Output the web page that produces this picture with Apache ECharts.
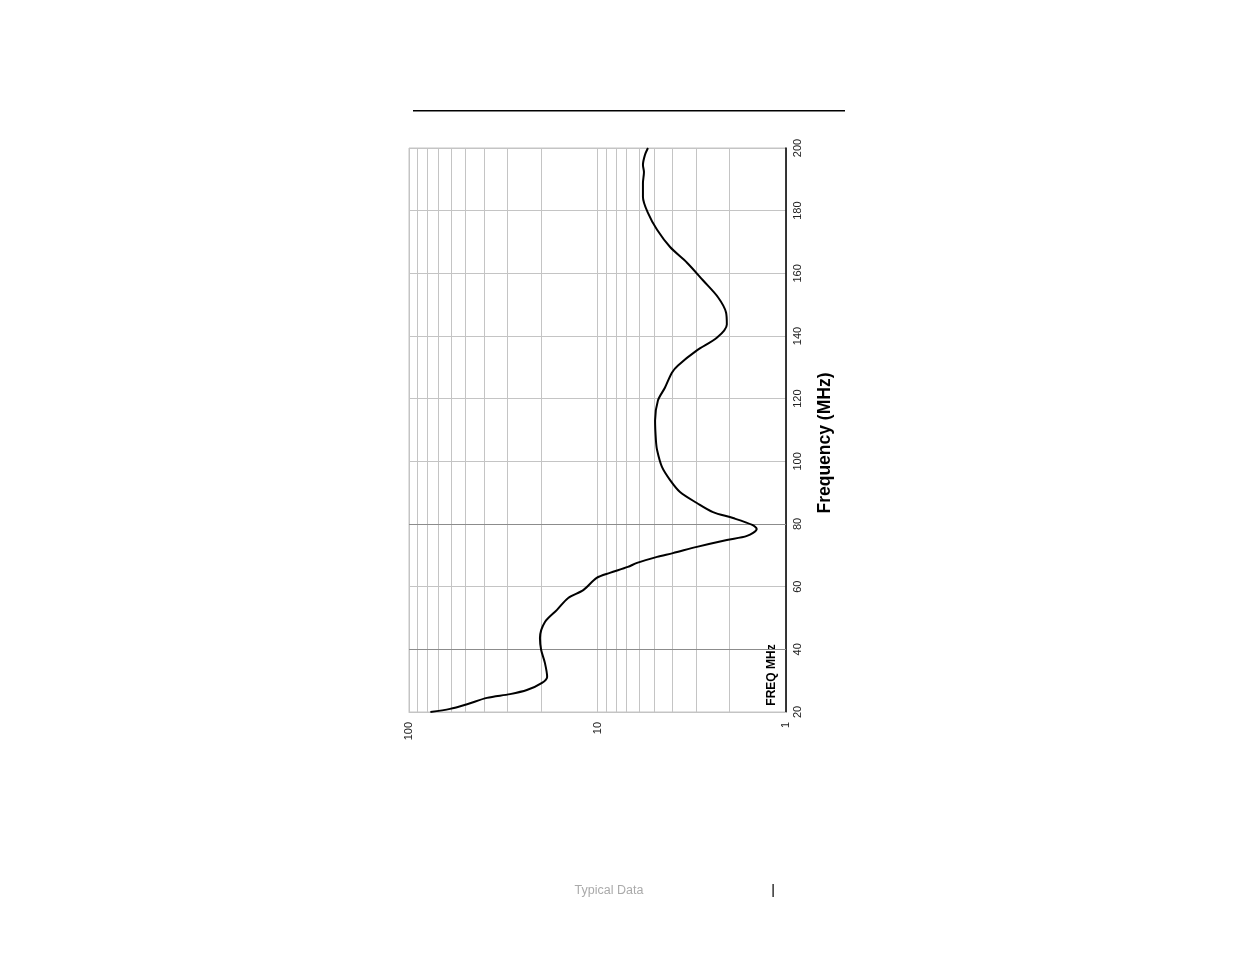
<!DOCTYPE html>
<html>
<head>
<meta charset="utf-8">
<script src="https://cdn.jsdelivr.net/npm/echarts@6/dist/echarts.min.js"></script>
<style>
html,body{margin:0;padding:0;background:#fff;}
#c{width:1235px;height:954px;}
</style>
</head>
<body>
<div id="c"></div>
<script>
// Frequency (MHz) and impedance (ohms, log scale)
const freqMHz = [20.0, 21.0, 22.5, 24.5, 25.7, 27.0, 29.3, 31.2, 35.6, 39.8, 43.6, 48.7, 52.6, 56.4, 58.9, 62.8, 64.4, 66.3, 67.6, 69.5, 70.7, 72.7, 74.9, 76.2, 78.4, 79.7, 81.9, 83.8, 86.7, 90.2, 94.0, 98.2, 103.6, 106.8, 113.0, 119.4, 123.5, 128.3, 130.6, 135.4, 139.5, 143.7, 147.5, 152.3, 157.7, 163.4, 168.4, 173.9, 179.3, 184.4, 188.8, 192.3, 194.6, 197.8, 200.0];
const impedance = [77, 60.6, 49.2, 38.6, 29.1, 23.7, 19.7, 18.5, 19.0, 19.9, 20.2, 19.0, 16.4, 14.3, 11.9, 10.1, 8.6, 6.9, 6.17, 4.83, 3.98, 2.97, 2.06, 1.61, 1.43, 1.51, 1.91, 2.44, 2.97, 3.65, 4.12, 4.55, 4.83, 4.9, 4.95, 4.78, 4.39, 4.03, 3.74, 2.97, 2.32, 2.06, 2.08, 2.29, 2.75, 3.35, 4.12, 4.83, 5.40, 5.74, 5.74, 5.67, 5.74, 5.60, 5.40];
const impedanceTicks = [1, 10, 100];
const freqTicks = [20, 40, 60, 80, 100, 120, 140, 160, 180, 200];
const minorImpedance = [2,3,4,5,6,7,8,9,20,30,40,50,60,70,80,90];
const darkFreqLines = [40, 80];
const axisTitle = 'Frequency (MHz)';
const innerLabel = 'FREQ MHz';
const footerText = 'Typical Data';

const seriesData = freqMHz.map((f, i) => [impedance[i], f]);

const chart = echarts.init(document.getElementById('c'), null, {renderer: 'canvas'});
chart.setOption({
  animation: false,
  backgroundColor: '#fff',
  grid: {left: 409, right: 449, top: 148, bottom: 242, show: true, borderColor: '#c4c4c4', borderWidth: 1},
  xAxis: {
    type: 'log', logBase: 10, min: 1, max: 100, inverse: true,
    axisLine: {show: true, lineStyle: {color: '#c4c4c4', width: 1}},
    axisTick: {show: false},
    axisLabel: {rotate: 90, fontSize: 11, color: '#222', fontFamily: 'Liberation Sans', margin: 10,
      formatter: v => impedanceTicks.includes(Math.round(v)) ? String(Math.round(v)) : ''},
    splitLine: {show: true, lineStyle: {color: '#c4c4c4', width: 1}}
  },
  yAxis: {
    type: 'value', min: 20, max: 200, interval: 20, position: 'right',
    axisLine: {show: true, onZero: false, lineStyle: {color: '#000', width: 1.5}},
    axisTick: {show: false},
    axisLabel: {rotate: 90, fontSize: 11, color: '#222', fontFamily: 'Liberation Sans', margin: 6,
      formatter: v => freqTicks.includes(v) ? String(v) : ''},
    splitLine: {show: true, lineStyle: {color: '#c4c4c4', width: 1}}
  },
  series: [
    {
      type: 'line', data: [], silent: true,
      markLine: {
        silent: true, symbol: 'none', animation: false, label: {show: false},
        lineStyle: {color: '#c4c4c4', width: 1, type: 'solid'},
        data: minorImpedance.map(v => ({xAxis: v}))
          .concat(darkFreqLines.map(v => ({yAxis: v, lineStyle: {color: '#8c8c8c', width: 1, type: 'solid'}})))
      }
    },
    {
      type: 'line', data: seriesData, showSymbol: false, smooth: 0.3,
      lineStyle: {color: '#000', width: 2}, z: 5
    }
  ],
  graphic: [
    {type: 'rect', shape: {x: 413, y: 110, width: 432, height: 1.5}, style: {fill: '#000'}},
    {type: 'text', x: 825, y: 443, rotation: Math.PI / 2,
      style: {text: axisTitle, fontSize: 17.5, fontWeight: 'bold', fill: '#000', fontFamily: 'Liberation Sans', align: 'center', verticalAlign: 'middle'}},
    {type: 'text', x: 772, y: 675, rotation: Math.PI / 2,
      style: {text: innerLabel, fontSize: 12, fontWeight: 'bold', fill: '#000', fontFamily: 'Liberation Sans', align: 'center', verticalAlign: 'middle'}},
    {type: 'text', x: 609, y: 891,
      style: {text: footerText, fontSize: 12.5, fill: '#aaa', fontFamily: 'Liberation Sans', align: 'center', verticalAlign: 'middle'}},
    {type: 'rect', shape: {x: 772.5, y: 884, width: 1.2, height: 13}, style: {fill: '#000'}}
  ]
});
</script>
</body>
</html>
